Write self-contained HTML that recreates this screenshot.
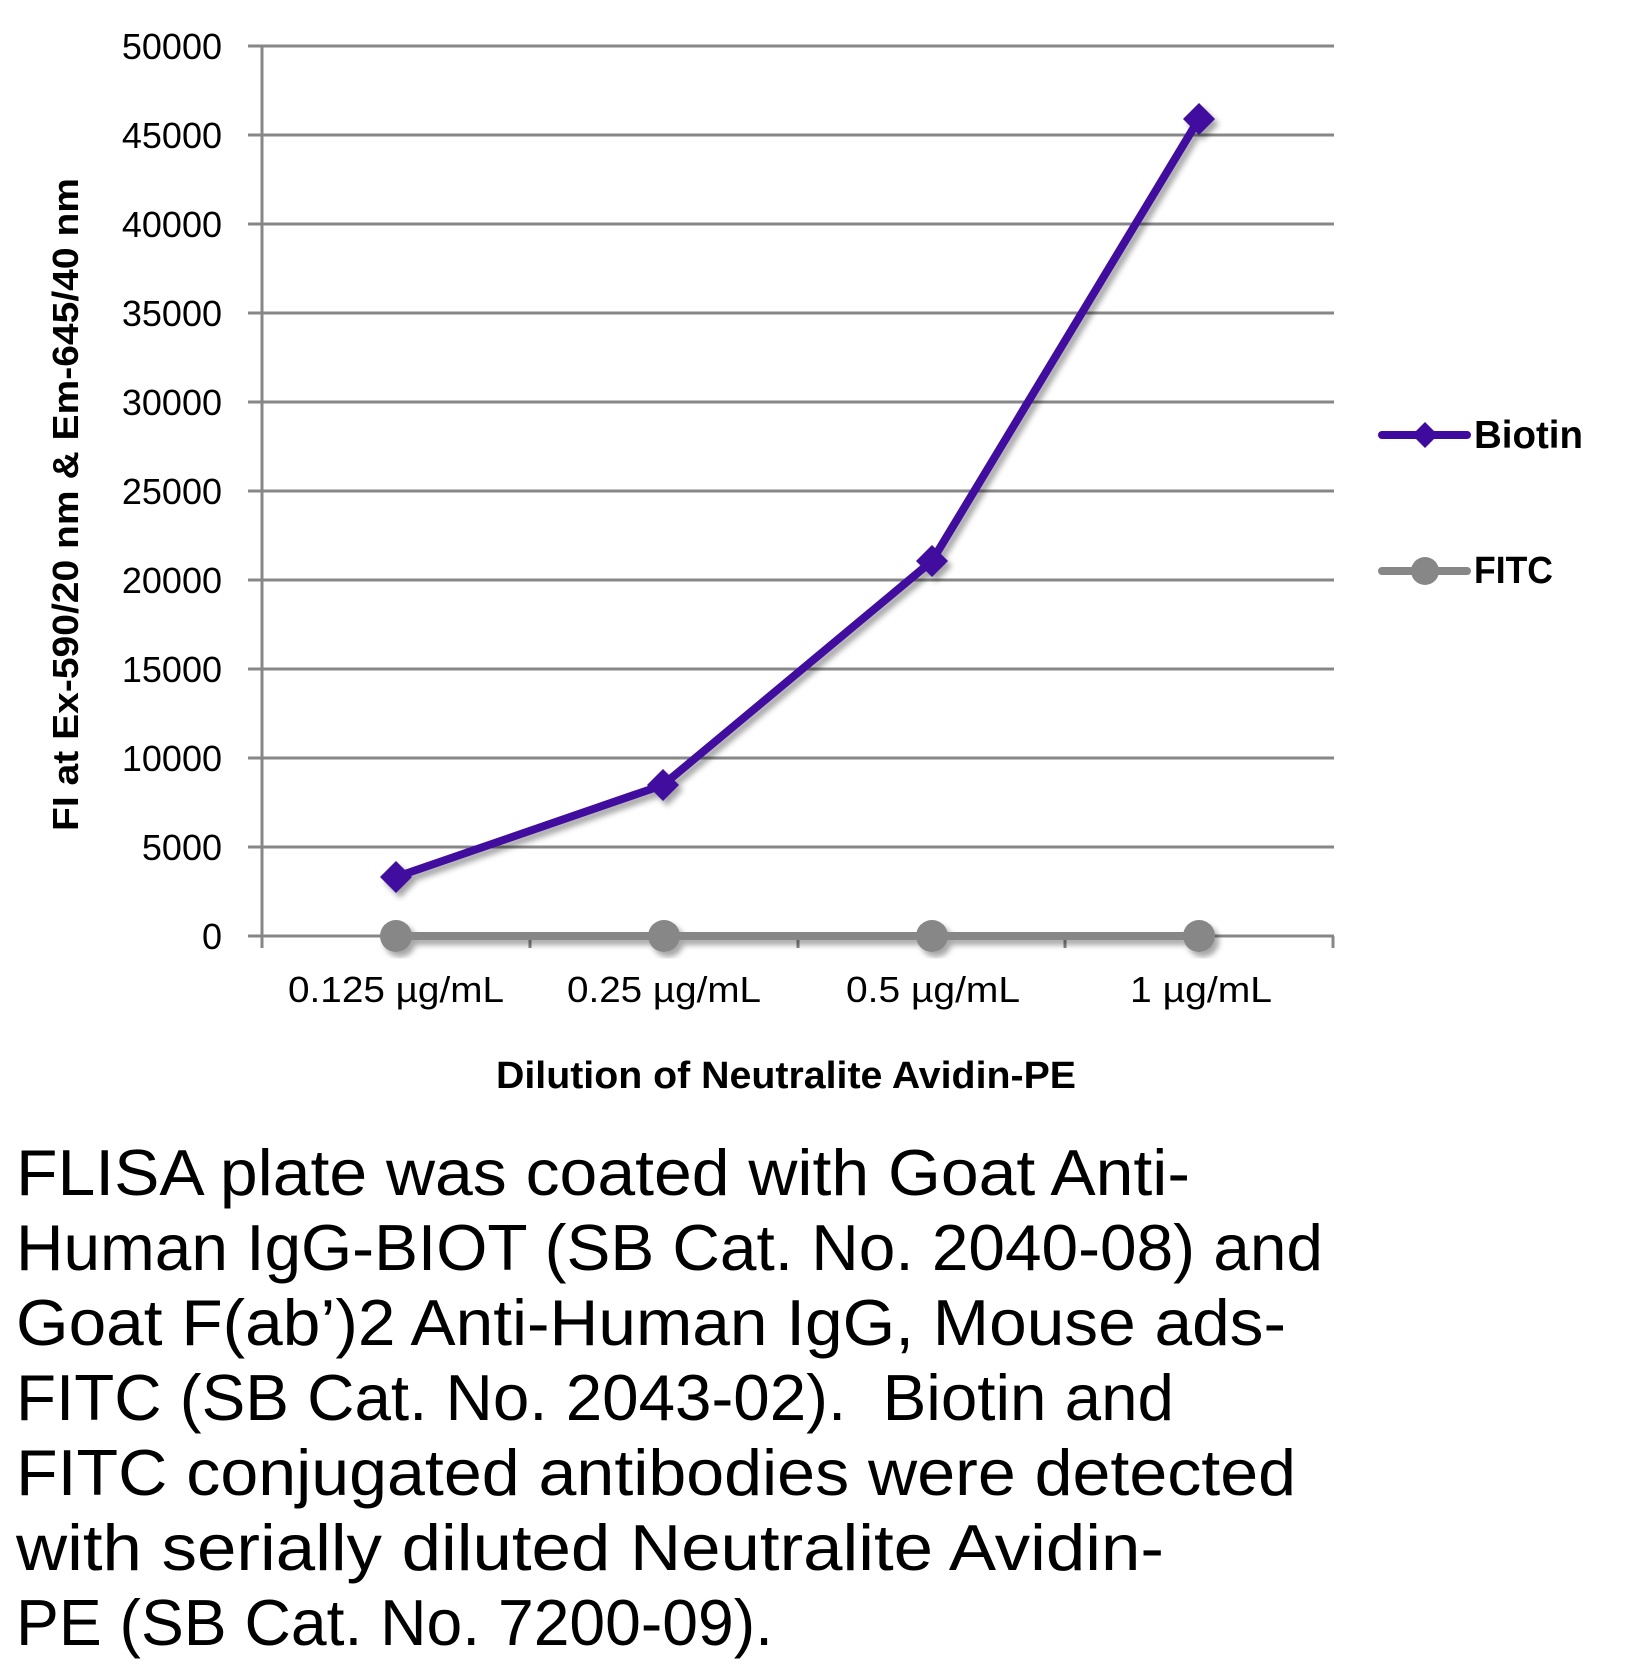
<!DOCTYPE html>
<html>
<head>
<meta charset="utf-8">
<style>
html,body{margin:0;padding:0;background:#fff;}
svg{display:block;}
text{font-family:"Liberation Sans",Arial,sans-serif;fill:#000;}
</style>
</head>
<body>
<svg width="1642" height="1674" viewBox="0 0 1642 1674" xmlns="http://www.w3.org/2000/svg">
<defs>
<filter id="sh" x="-20%" y="-20%" width="140%" height="140%">
<feDropShadow dx="4" dy="5" stdDeviation="3" flood-color="#000" flood-opacity="0.35"/>
</filter>
</defs>
<rect width="1642" height="1674" fill="#fff"/>

<!-- gridlines -->
<g stroke="#878787" stroke-width="3">
<line x1="248" y1="46" x2="1334" y2="46"/>
<line x1="248" y1="135" x2="1334" y2="135"/>
<line x1="248" y1="224" x2="1334" y2="224"/>
<line x1="248" y1="313" x2="1334" y2="313"/>
<line x1="248" y1="402" x2="1334" y2="402"/>
<line x1="248" y1="491" x2="1334" y2="491"/>
<line x1="248" y1="580" x2="1334" y2="580"/>
<line x1="248" y1="669" x2="1334" y2="669"/>
<line x1="248" y1="758" x2="1334" y2="758"/>
<line x1="248" y1="847" x2="1334" y2="847"/>
<line x1="248" y1="936" x2="1334" y2="936"/>
<line x1="262" y1="46" x2="262" y2="948"/>
<line x1="530" y1="936" x2="530" y2="948"/>
<line x1="798" y1="936" x2="798" y2="948"/>
<line x1="1065" y1="936" x2="1065" y2="948"/>
<line x1="1333" y1="936" x2="1333" y2="948"/>
</g>

<!-- y tick labels -->
<g font-size="36" text-anchor="end">
<text x="222" y="59">50000</text>
<text x="222" y="148">45000</text>
<text x="222" y="237">40000</text>
<text x="222" y="326">35000</text>
<text x="222" y="415">30000</text>
<text x="222" y="504">25000</text>
<text x="222" y="593">20000</text>
<text x="222" y="682">15000</text>
<text x="222" y="771">10000</text>
<text x="222" y="860">5000</text>
<text x="222" y="949">0</text>
</g>

<!-- x tick labels -->
<g font-size="36">
<text x="288" y="1002" textLength="216" lengthAdjust="spacingAndGlyphs">0.125 µg/mL</text>
<text x="567" y="1002" textLength="194" lengthAdjust="spacingAndGlyphs">0.25 µg/mL</text>
<text x="846" y="1002" textLength="174" lengthAdjust="spacingAndGlyphs">0.5 µg/mL</text>
<text x="1130" y="1002" textLength="142" lengthAdjust="spacingAndGlyphs">1 µg/mL</text>
</g>

<!-- axis titles -->
<text x="496" y="1088" font-size="38" font-weight="bold" textLength="580" lengthAdjust="spacingAndGlyphs">Dilution of Neutralite Avidin-PE</text>
<text transform="translate(78,504.5) rotate(-90)" x="0" y="0" font-size="36" font-weight="bold" text-anchor="middle" textLength="653" lengthAdjust="spacingAndGlyphs">FI at Ex-590/20 nm &amp; Em-645/40 nm</text>

<!-- FITC series -->
<g filter="url(#sh)">
<polyline points="396,936 664,936 932,936 1199,936" fill="none" stroke="#878787" stroke-width="8"/>
<circle cx="396" cy="936" r="16" fill="#878787"/>
<circle cx="664" cy="936" r="16" fill="#878787"/>
<circle cx="932" cy="936" r="16" fill="#878787"/>
<circle cx="1199" cy="936" r="16" fill="#878787"/>
</g>

<!-- Biotin series -->
<g filter="url(#sh)">
<polyline points="396,877 663,785 932,561 1199,119" fill="none" stroke="#3f0a9e" stroke-width="8" stroke-linejoin="round"/>
<polygon points="396,861 412,877 396,893 380,877" fill="#3f0a9e"/>
<polygon points="663,769 679,785 663,801 647,785" fill="#3f0a9e"/>
<polygon points="932,545 948,561 932,577 916,561" fill="#3f0a9e"/>
<polygon points="1199,103 1215,119 1199,135 1183,119" fill="#3f0a9e"/>
</g>

<!-- legend -->
<line x1="1382" y1="435" x2="1467" y2="435" stroke="#3f0a9e" stroke-width="8" stroke-linecap="round"/>
<polygon points="1425,422 1438,435 1425,448 1412,435" fill="#3f0a9e"/>
<text x="1474" y="448" font-size="39" font-weight="bold" textLength="109" lengthAdjust="spacingAndGlyphs">Biotin</text>
<line x1="1382" y1="571" x2="1467" y2="571" stroke="#878787" stroke-width="8" stroke-linecap="round"/>
<circle cx="1425" cy="571" r="14" fill="#878787"/>
<text x="1474" y="583" font-size="38" font-weight="bold" textLength="79" lengthAdjust="spacingAndGlyphs">FITC</text>

<!-- caption -->
<g font-size="65" style="white-space:pre">
<text x="16" y="1195" textLength="1174" lengthAdjust="spacingAndGlyphs">FLISA plate was coated with Goat Anti-</text>
<text x="16" y="1270" textLength="1307" lengthAdjust="spacingAndGlyphs">Human IgG-BIOT (SB Cat. No. 2040-08) and</text>
<text x="16" y="1345" textLength="1270" lengthAdjust="spacingAndGlyphs">Goat F(ab’)2 Anti-Human IgG, Mouse ads-</text>
<text x="16" y="1420" textLength="1158" lengthAdjust="spacingAndGlyphs" xml:space="preserve">FITC (SB Cat. No. 2043-02).  Biotin and</text>
<text x="16" y="1495" textLength="1280" lengthAdjust="spacingAndGlyphs">FITC conjugated antibodies were detected</text>
<text x="16" y="1570" textLength="1148" lengthAdjust="spacingAndGlyphs">with serially diluted Neutralite Avidin-</text>
<text x="16" y="1645" textLength="757" lengthAdjust="spacingAndGlyphs">PE (SB Cat. No. 7200-09).</text>
</g>
</svg>
</body>
</html>
